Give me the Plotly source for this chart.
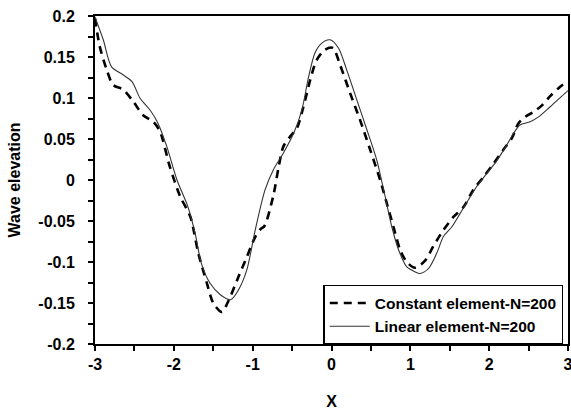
import plotly.graph_objects as go

# Constant element-N=200 (dashed)
x_const = [-3.0, -2.94, -2.85, -2.77, -2.64, -2.51, -2.39, -2.26, -2.175, -2.05, -1.92, -1.79,
           -1.69, -1.58, -1.50, -1.39, -1.31, -1.18, -1.075, -0.97, -0.90, -0.85, -0.74, -0.67,
           -0.61, -0.525, -0.44, -0.357, -0.27, -0.19, -0.08, 0.017, 0.11, 0.236, 0.363, 0.49,
           0.617, 0.70, 0.786, 0.87, 0.955, 1.06, 1.19, 1.29, 1.42, 1.547, 1.674, 1.80, 1.93,
           2.055, 2.18, 2.288, 2.37, 2.457, 2.56, 2.67, 2.77, 2.88, 3.0]
y_const = [0.197, 0.163, 0.134, 0.116, 0.110, 0.095, 0.079, 0.071, 0.059, 0.016, -0.020, -0.045,
           -0.089, -0.126, -0.150, -0.161, -0.148, -0.118, -0.094, -0.070, -0.060, -0.056, -0.020, 0.016,
           0.041, 0.053, 0.063, 0.089, 0.122, 0.146, 0.159, 0.161, 0.140, 0.106, 0.073, 0.037,
           0.000, -0.028, -0.057, -0.085, -0.100, -0.107, -0.098, -0.081, -0.061, -0.045, -0.033, -0.012, 0.004,
           0.020, 0.037, 0.051, 0.069, 0.077, 0.083, 0.091, 0.102, 0.112, 0.121]

# Linear element-N=200 (solid)
x_lin = [-3.0, -2.895, -2.79, -2.64, -2.53, -2.43, -2.30, -2.20, -2.09, -1.96, -1.82, -1.73,
         -1.65, -1.54, -1.41, -1.28, -1.18, -1.075, -0.97, -0.843, -0.74, -0.61, -0.48, -0.377,
         -0.29, -0.21, -0.123, -0.018, 0.088, 0.194, 0.32, 0.45, 0.575, 0.68, 0.765, 0.85,
         0.955, 1.06, 1.124, 1.23, 1.336, 1.42, 1.527, 1.63, 1.737, 1.843, 1.97, 2.10, 2.225,
         2.31, 2.39, 2.52, 2.626, 2.77, 2.964, 3.0]
y_lin = [0.199, 0.171, 0.138, 0.128, 0.120, 0.100, 0.085, 0.069, 0.041, 0.000, -0.033, -0.065,
         -0.102, -0.126, -0.140, -0.146, -0.134, -0.110, -0.062, -0.012, 0.012, 0.033, 0.057, 0.085,
         0.126, 0.155, 0.167, 0.171, 0.161, 0.134, 0.098, 0.061, 0.024, -0.020, -0.057, -0.085,
         -0.106, -0.112, -0.114, -0.108, -0.089, -0.069, -0.057, -0.041, -0.024, -0.008, 0.008, 0.024, 0.043,
         0.057, 0.067, 0.071, 0.077, 0.089, 0.106, 0.109]

x_tickvals = [-3, -2, -1, 0, 1, 2, 3]
x_ticktext = ["-3", "-2", "-1", "0", "1", "2", "3"]
y_tickvals = [0.2, 0.15, 0.1, 0.05, 0, -0.05, -0.1, -0.15, -0.2]
y_ticktext = ["0.2", "0.15", "0.1", "0.05", "0", "-0.05", "-0.1", "-0.15", "-0.2"]

FONT = "Liberation Sans, Arial, sans-serif"

fig = go.Figure()
fig.add_trace(go.Scatter(x=x_const, y=y_const, mode="lines", name="Constant element-N=200",
                         line=dict(color="black", width=2.6, dash="8px,6px", shape="spline", smoothing=0.8)))
fig.add_trace(go.Scatter(x=x_lin, y=y_lin, mode="lines", name="Linear element-N=200",
                         line=dict(color="#333333", width=1.1, shape="spline", smoothing=0.8)))

axis_common = dict(showline=True, linecolor="black", linewidth=2, mirror=True, showgrid=False,
                   zeroline=False, ticks="outside", ticklen=5, tickwidth=1.5, tickcolor="black",
                   tickfont=dict(family=FONT, size=16, color="black", weight=700),
                   ticklabeloverflow="allow", automargin=False)

fig.update_xaxes(range=[-3, 3], tickmode="array", tickvals=x_tickvals, ticktext=x_ticktext,
                 minor=dict(ticks="outside", dtick=0.5, ticklen=5, tickwidth=1.5, tickcolor="black"),
                 title=dict(text="X", font=dict(family=FONT, size=16, color="black", weight=700), standoff=24),
                 **axis_common)
fig.update_yaxes(range=[-0.2, 0.2], tickmode="array", tickvals=y_tickvals, ticktext=y_ticktext,
                 minor=dict(ticks="outside", dtick=0.025, ticklen=5, tickwidth=1.5, tickcolor="black"),
                 ticklabelstandoff=10,
                 title=dict(text="Wave elevation", font=dict(family=FONT, size=16, color="black", weight=700), standoff=14),
                 **axis_common)

fig.update_layout(
    width=571, height=410,
    margin=dict(l=95, r=3, t=16, b=66, autoexpand=False),
    plot_bgcolor="white", paper_bgcolor="white",
    showlegend=True,
    legend=dict(x=0.99, y=0.18, xanchor="right", yanchor="top",
                bgcolor="white", bordercolor="black", borderwidth=1.5,
                font=dict(family=FONT, size=15.5, color="black", weight=700),
                itemwidth=40, tracegroupgap=0),
)

fig.write_html("out.html", config={"displayModeBar": False},
               post_script="document.body.style.margin='0px';document.body.style.overflow='hidden';")
